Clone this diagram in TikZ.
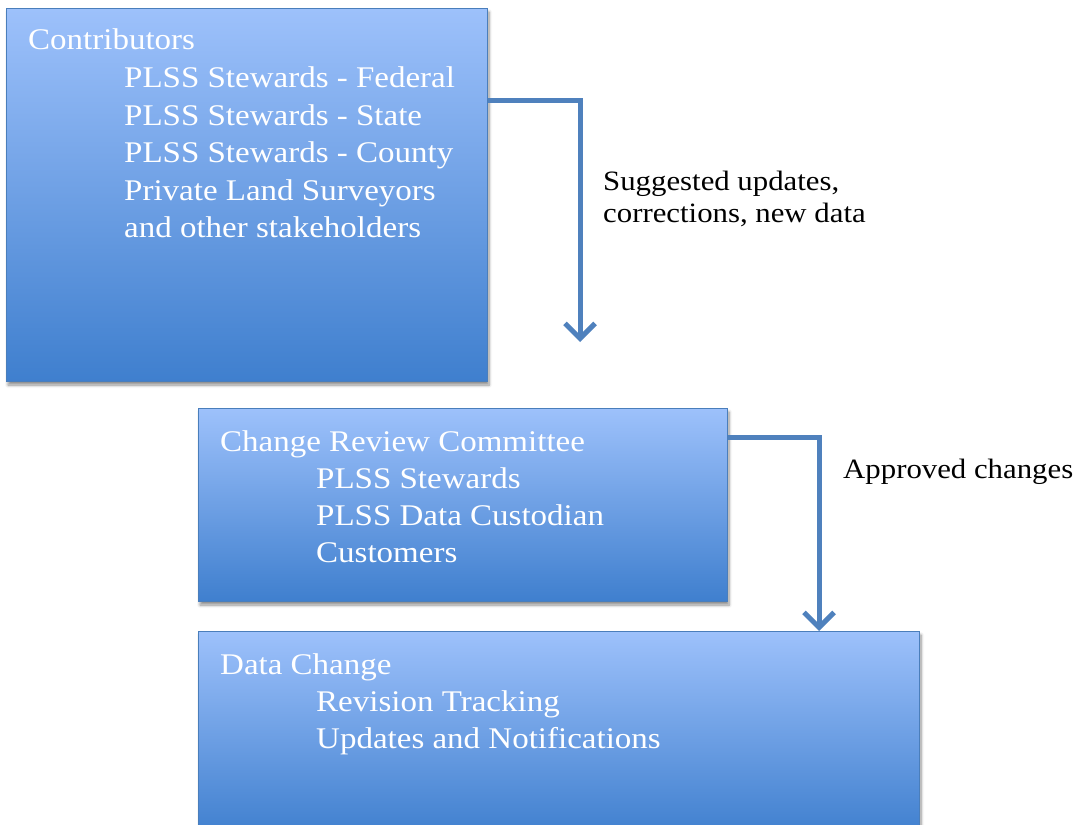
\documentclass[tikz,border=0pt]{standalone}
\usepackage{fontspec}
\setmainfont{Liberation Serif}[FakeStretch=1.1]
\usetikzlibrary{shadows.blur,arrows.meta,calc}
\definecolor{boxtop}{HTML}{9DC1FB}
\definecolor{boxbot}{HTML}{3F7FCE}
\definecolor{boxline}{HTML}{4A7EBB}
\definecolor{connc}{HTML}{4F81BD}
\tikzset{
 pbox/.style={draw=boxline, line width=1pt, top color=boxtop, bottom color=boxbot, rectangle, anchor=north west, inner sep=0pt,
   blur shadow={shadow xshift=1.5pt, shadow yshift=-3.5pt, shadow blur radius=3pt, shadow blur steps=6, shadow opacity=45}},
 wtxt/.style={anchor=base west, inner sep=0pt, text=white, font=\fontsize{30}{37.5}\selectfont},
 btxt/.style={anchor=base west, inner sep=0pt, text=black, font=\fontsize{28}{34}\selectfont},
 connector/.style={draw=connc, line width=5pt, line join=miter, -{Straight Barb[length=15pt, width=30pt]}},
}
\begin{document}
\begin{tikzpicture}[x=1pt, y=-1pt]
\useasboundingbox (0,0) rectangle (1078,824);
% boxes
\node[pbox, minimum width=481pt, minimum height=373pt] (box1) at (6,8) {};
\node[pbox, minimum width=529pt, minimum height=193pt] (box2) at (198,408) {};
\node[pbox, minimum width=721pt, minimum height=205pt] (box3) at (198,631) {};
% box 1 text
\node[wtxt] (t10) at (28,50) {Contributors};
\node[wtxt] (t11) at (124,87.5) {PLSS Stewards - Federal};
\node[wtxt] (t12) at (124,125) {PLSS Stewards - State};
\node[wtxt] (t13) at (124,162.5) {PLSS Stewards - County};
\node[wtxt] (t14) at (124,200) {Private Land Surveyors};
\node[wtxt] (t15) at (124,237.5) {and other stakeholders};
% box 2 text
\node[wtxt] (t20) at (220,451) {Change Review Committee};
\node[wtxt] (t21) at (316,488) {PLSS Stewards};
\node[wtxt] (t22) at (316,525) {PLSS Data Custodian};
\node[wtxt] (t23) at (316,562) {Customers};
% box 3 text
\node[wtxt] (t30) at (220,674) {Data Change};
\node[wtxt] (t31) at (316,711) {Revision Tracking};
\node[wtxt] (t32) at (316,748) {Updates and Notifications};
% connectors
\coordinate (tip1) at (580,342);
\draw[connector] ($(box1.north east)+(0,93)$) -| (tip1);
\draw[connector] ($(box2.north east)+(0,29)$) -| ([xshift=621pt]box3.north west);
% labels
\node[btxt] (l1a) at (603,190) {Suggested updates,};
\node[btxt] (l1b) at (603,222) {corrections, new data};
\node[btxt] (l2) at (843,478) {Approved changes};
\end{tikzpicture}
\end{document}
